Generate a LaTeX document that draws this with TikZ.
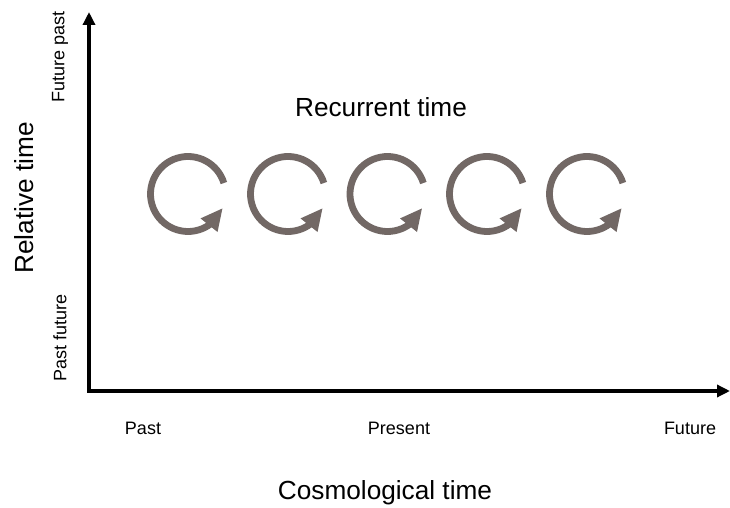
\documentclass[tikz,border=0pt]{standalone}
\usepackage{fontspec}
\setmainfont{Liberation Sans}
\usetikzlibrary{arrows.meta,bending}
\definecolor{loopcol}{RGB}{114,104,101}
\begin{document}
\begin{tikzpicture}[x=1pt,y=1pt,
  axistip/.style={line width=4pt, line join=miter, {Triangle[length=13pt,width=12pt]}-{Triangle[length=13pt,width=12pt]}},
  loop/.style={line width=6.8pt, draw=loopcol, -{Triangle[length=22pt,width=20pt,flex]}},
  big/.style={font=\fontsize{26.2}{31}\selectfont, inner sep=0pt},
  small/.style={font=\fontsize{18}{22}\selectfont, inner sep=0pt}]
\useasboundingbox (0,0) rectangle (730,508);
\coordinate (top) at (89,496);
\coordinate (origin) at (89,117);
\coordinate (right) at (730,117);
\draw[axistip] (top) -- (origin) -- (right);
\foreach \i/\x in {1/188,2/288,3/387.5,4/487,5/587} {
  \coordinate (c\i) at (\x,314);
  \draw[loop] ([shift={(17:37.5)}]c\i) arc[start angle=17,end angle=338,radius=37.5];
}
\node[big] (rec) at (381,401) {Recurrent time};
\node[big, rotate=90] (rel) at (24,310) {Relative time};
\node[small, rotate=90] (fp) at (60,451) {Future past};
\node[small, rotate=90] (pf) at (60,170) {Past future};
\node[small] (past) at (143,80) {Past};
\node[small] (present) at (399,80) {Present};
\node[small] (future) at (690,80) {Future};
\node[big] (cosmo) at (385,15) {Cosmological time};
\end{tikzpicture}
\end{document}
